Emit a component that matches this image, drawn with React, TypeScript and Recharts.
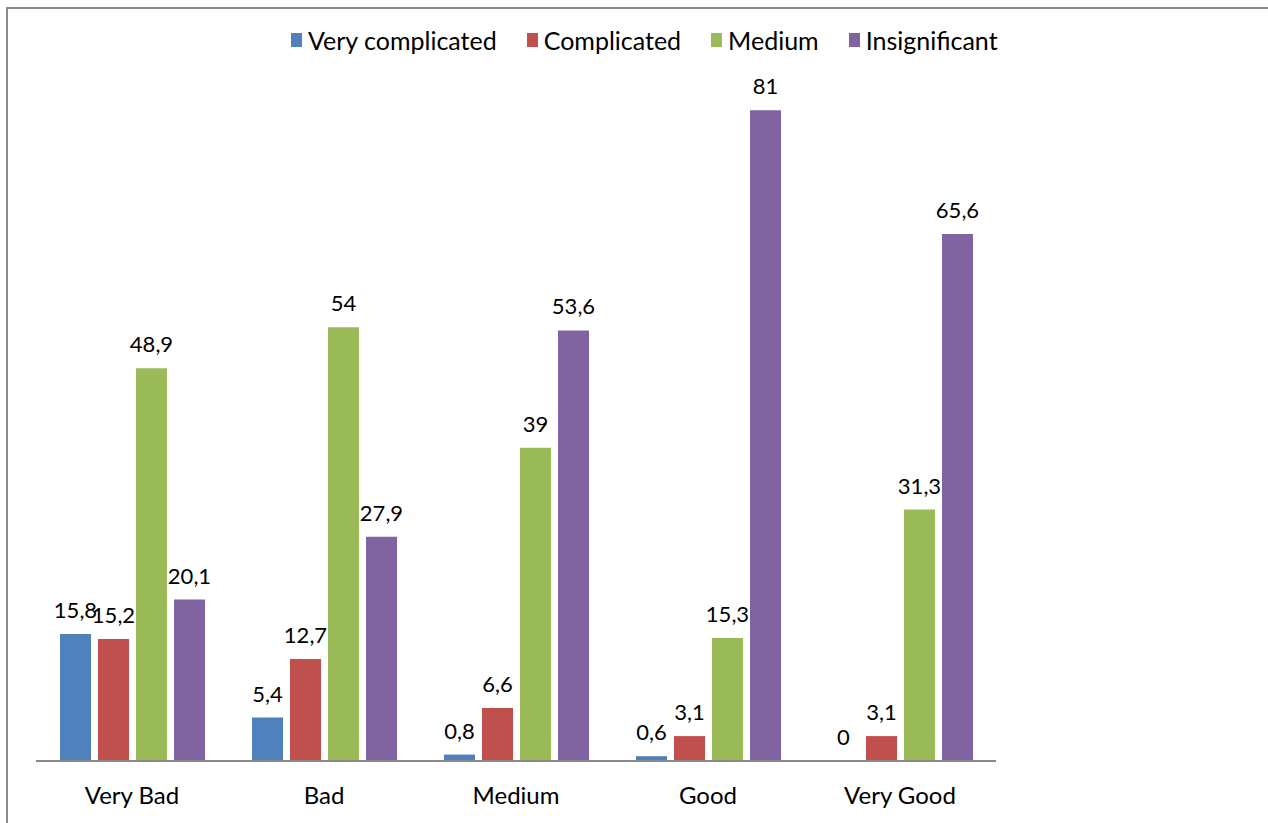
import { BarChart, Bar, XAxis, YAxis, LabelList } from 'recharts';

const categories = ['Very Bad', 'Bad', 'Medium', 'Good', 'Very Good'];
const veryComplicated = [15.8, 5.4, 0.8, 0.6, 0];
const complicated = [15.2, 12.7, 6.6, 3.1, 3.1];
const medium = [48.9, 54, 39, 15.3, 31.3];
const insignificant = [20.1, 27.9, 53.6, 81, 65.6];

const SERIES = [
  { key: 'veryComplicated', name: 'Very complicated', color: '#4F81BD' },
  { key: 'complicated', name: 'Complicated', color: '#C0504D' },
  { key: 'medium', name: 'Medium', color: '#9BBB59' },
  { key: 'insignificant', name: 'Insignificant', color: '#8064A2' },
];

const data = categories.map((name, i) => ({
  name,
  veryComplicated: veryComplicated[i],
  complicated: complicated[i],
  medium: medium[i],
  insignificant: insignificant[i],
}));

const FONT = 'Lato, "Open Sans", sans-serif';

const fmt = (v: any) => String(v).replace('.', ',');

const LegendRow = () => (
  <div
    style={{
      position: 'absolute',
      left: 291,
      top: 24,
      display: 'flex',
      fontFamily: FONT,
      fontSize: 25,
      lineHeight: '32px',
      color: '#000',
    }}
  >
    {SERIES.map((s, i) => (
      <div
        key={s.key}
        style={{ display: 'flex', alignItems: 'center', marginRight: i < SERIES.length - 1 ? 30 : 0 }}
      >
        <span style={{ width: 11, height: 14, background: s.color, display: 'inline-block', marginRight: 6 }} />
        <span>{s.name}</span>
      </div>
    ))}
  </div>
);

export default function App() {
  return (
    <div style={{ position: 'absolute', left: 0, top: 0, width: 1268, height: 823, background: '#fff', overflow: 'hidden' }}>
      <div
        style={{
          position: 'absolute',
          left: 6,
          top: 7,
          width: 1300,
          height: 900,
          border: '2px solid #8a8a8a',
          boxSizing: 'border-box',
        }}
      />
      <BarChart
        width={1268}
        height={823}
        data={data}
        margin={{ top: 38, right: 272, bottom: 0, left: 36 }}
        barCategoryGap={24}
        barGap={7}
        style={{ position: 'absolute', left: 0, top: 0 }}
      >
        <XAxis
          dataKey="name"
          axisLine={{ stroke: '#8a8a8a', strokeWidth: 2 }}
          tickLine={false}
          height={62}
          tick={{ fill: '#000', fontSize: 24, fontFamily: FONT }}
          tickMargin={20}
        />
        <YAxis hide domain={[0, 90]} />
        {SERIES.map((s) => (
          <Bar
            key={s.key}
            dataKey={s.key}
            name={s.name}
            fill={s.color}
            minPointSize={0.01}
            isAnimationActive={false}
          >
            <LabelList
              dataKey={s.key}
              position="top"
              offset={16}
              formatter={fmt}
              style={{ fill: '#000', fontSize: 22, fontFamily: FONT }}
            />
          </Bar>
        ))}
      </BarChart>
      <LegendRow />
    </div>
  );
}
